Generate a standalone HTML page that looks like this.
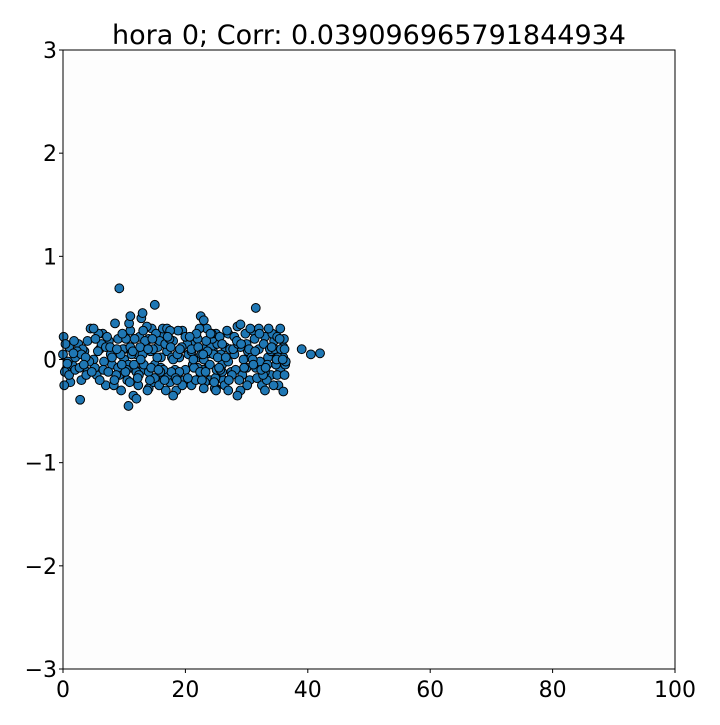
<!DOCTYPE html>
<html><head><meta charset="utf-8"><style>
html,body{margin:0;padding:0;background:#fff}
svg text{font-family:"DejaVu Sans","Liberation Sans",sans-serif;fill:#000}
</style></head><body>
<svg id="chart" width="720" height="720" viewBox="0 0 720 720">
<rect x="0" y="0" width="720" height="720" fill="#fff"/>
<rect x="63" y="50" width="612" height="619" fill="#fdfdfd"/>
<text x="369" y="44" font-size="27" text-anchor="middle">hora 0; Corr: 0.039096965791844934</text>
<g id="points"></g>
<g id="axes"></g>
<rect x="63" y="50" width="612" height="619" fill="none" stroke="#000" stroke-width="1"/>
</svg>
<script>
const xs = [
0,0.5,1,1.5,2,2.5,3,3.5,4,4.5,5,5.5,6,6.5,7,7.5,8,8.5,9,9.5,
10,10.5,11,11.5,12,12.5,13,13.5,14,14.5,15,15.5,16,16.5,17,17.5,18,18.5,19,19.5,
20,20.5,21,21.5,22,22.5,23,23.5,24,24.5,25,25.5,26,26.5,27,27.5,28,28.5,29,29.5,
30,30.5,31,31.5,32,32.5,33,33.5,34,34.5,35,35.5,36,36.3,1.2,3.2,5.2,7.2,9.2,11.2,
13.2,15.2,17.2,19.2,21.2,22.2,23.2,24.2,25.2,26.2,28.2,30.2,32.2,34.2,35.2,0.3,2.3,4.3,6.3,8.3,
10.3,12.3,14.3,16.3,18.3,20.3,22.3,23.8,24.8,25.8,27.3,29.3,31.3,33.3,35.8,1.8,3.8,5.8,7.8,9.8,
11.8,13.8,15.8,17.8,19.8,21.8,22.8,24.4,25.4,26.8,28.8,30.8,32.8,34.8,36.1,10.8,12.8,14.8,16.8,18.8,
9.2,15,31.5,2.8,10.7,39,40.5,42,36,22.5,23,25,12,18,28.5,33,13,11,35.5,29,
8,9,10,11,12,13,14,15,16,17,18,19,20,21,22,23,24,25,26,27,
28,29,30,31,32,33,34,35,36,8.7,9.7,10.7,11.7,12.7,13.7,14.7,15.7,16.7,17.7,18.7,
0.1,0.2,0.4,0.8,1,2,3,4,5,6,7,21.7,22.7,23.4,24.6,25.3,26.4,27.8,33.8,35.4,
19.5,21,22.1,23,24,24.9,25.6,26,27,29.8,30.6,31.7,32.7,33.6,34.4,35,36.2,14,16,17.5,
0.7,1.7,2.7,3.7,4.7,5.7,6.7,7.7,8.4,9.4,10.4,11.4,12.4,13.4,14.4,15.4,16.4,17.4,18.4,19.4,
20.4,21.4,22.4,23.6,24.3,25.1,26.6,27.6,28.6,29.6,30.4,31.4,32.4,33.4,34.6,35.6,36.4,12.2,14.6,16.6,
6.6,8.8,10.2,11.6,13.1,14.2,15.9,17.1,18.6,20.7,22.6,23.3,24.7,25.7,28.4,30.1,32.1,34.1,35.1,36.2,
3.4,5.3,7.4,9.6,10.9,12.6,13.9,15.6,17.6,19.1,21.3,22.9,24.1,25.5,27.1,29.1,31.1,33.1,34.9,35.9];
const ys = [
0.05,-0.1,0.12,-0.05,0.02,0.15,-0.2,0.08,-0.12,0.3,0.0,-0.15,0.1,0.25,-0.25,0.18,-0.05,0.35,0.2,-0.3,
0.1,-0.2,0.28,-0.35,0.05,0.22,-0.1,0.15,-0.28,0.3,-0.05,0.12,0.25,-0.18,0.08,-0.22,0.18,-0.3,0.02,0.28,
-0.1,0.05,-0.25,0.15,0.2,-0.15,0.1,0.3,-0.2,0.08,-0.28,0.18,-0.05,0.12,0.25,-0.12,0.05,0.32,-0.3,0.0,
0.15,-0.2,0.28,-0.08,0.1,-0.25,0.22,0.02,-0.15,0.18,0.05,-0.1,0.12,-0.05,-0.22,0.1,-0.08,0.22,-0.15,0.05,
-0.05,0.25,-0.15,0.1,-0.05,0.02,-0.22,0.12,0.15,-0.2,-0.1,0.08,-0.02,0.25,-0.25,-0.12,0.08,-0.02,0.15,-0.25,
0.2,-0.25,0.08,0.3,-0.1,0.15,0.3,-0.05,-0.28,0.05,0.1,-0.15,0.2,-0.2,0.08,0.18,-0.15,0.25,0.05,0.1,
-0.1,-0.3,0.18,0.02,-0.2,0.25,-0.1,0.2,-0.12,0.28,-0.2,0.02,0.15,-0.05,0.2,0.35,0.4,-0.22,-0.3,0.28,
0.69,0.53,0.5,-0.39,-0.45,0.1,0.05,0.06,-0.31,0.42,0.38,-0.3,-0.38,-0.35,-0.35,-0.3,0.45,0.42,0.3,0.34,
0.02,-0.08,0.0,0.12,-0.12,0.05,0.2,-0.18,0.02,0.3,0.0,-0.12,0.22,0.08,-0.08,0.0,0.06,0.25,-0.12,-0.02,
0.22,0.12,-0.08,0.0,0.3,-0.12,0.08,0.22,0.02,-0.15,0.25,-0.05,0.2,0.0,0.32,0.1,-0.25,0.15,-0.12,0.05,
0.22,-0.25,0.15,-0.02,-0.15,-0.1,0.05,0.18,0.3,-0.2,0.12,-0.2,-0.2,0.18,0.05,0.02,-0.25,0.1,0.1,0.2,
-0.25,0.1,0.12,-0.28,-0.05,-0.18,0.22,0.15,-0.3,0.25,0.3,-0.18,-0.15,0.3,-0.25,-0.15,-0.15,-0.12,-0.08,0.28,
-0.04,0.06,-0.08,0.02,-0.12,0.08,-0.02,0.12,-0.2,0.05,-0.1,0.08,-0.15,0.18,-0.08,0.02,-0.1,0.2,-0.18,0.12,
-0.18,-0.08,-0.12,0.08,0.25,-0.1,0.02,-0.15,0.15,-0.08,0.1,0.08,-0.1,-0.05,0.1,0.1,-0.02,-0.18,0.2,-0.2,
-0.1,0.1,-0.12,-0.05,0.28,-0.2,-0.12,0.22,-0.2,0.22,0.05,-0.12,-0.22,-0.1,0.18,-0.25,0.25,0.12,0.02,0.1,
-0.05,0.2,-0.12,-0.05,-0.22,0.12,0.1,-0.1,0.12,0.1,0.0,0.05,0.25,-0.08,-0.2,0.15,-0.05,-0.08,0.0,0.0];
const xTicks = [0,20,40,60,80,100];
const yTicks = [-3,-2,-1,0,1,2,3];

const NS = "http://www.w3.org/2000/svg";
const X0=63, X1=675, Y0=669, Y1=50;
function sx(v){return X0+(v-0)/(100-0)*(X1-X0);}
function sy(v){return Y0-(v-(-3))/(3-(-3))*(Y0-Y1);}
const pg = document.getElementById('points');
for(let i=0;i<xs.length;i++){
  const c=document.createElementNS(NS,'circle');
  c.setAttribute('cx',sx(xs[i]));c.setAttribute('cy',sy(ys[i]));c.setAttribute('r',4.4);
  c.setAttribute('fill','#1f77b4');c.setAttribute('stroke','#000');c.setAttribute('stroke-width','1');
  
  
  pg.appendChild(c);
}
const ag = document.getElementById('axes');
xTicks.forEach(t=>{
  const l=document.createElementNS(NS,'line');
  l.setAttribute('x1',sx(t));l.setAttribute('x2',sx(t));l.setAttribute('y1',Y0);l.setAttribute('y2',Y0+4);
  l.setAttribute('stroke','#000');
  
  
  ag.appendChild(l);
  const tx=document.createElementNS(NS,'text');
  tx.setAttribute('x',sx(t));tx.setAttribute('y',Y0+28);tx.setAttribute('font-size','22');tx.setAttribute('text-anchor','middle');
  tx.textContent=String(t);
  
  
  ag.appendChild(tx);
});
yTicks.forEach(t=>{
  const l=document.createElementNS(NS,'line');
  l.setAttribute('x1',X0-4);l.setAttribute('x2',X0);l.setAttribute('y1',sy(t));l.setAttribute('y2',sy(t));
  l.setAttribute('stroke','#000');
  
  
  ag.appendChild(l);
  const tx=document.createElementNS(NS,'text');
  tx.setAttribute('x',X0-6);tx.setAttribute('y',sy(t)+8);tx.setAttribute('font-size','22');tx.setAttribute('text-anchor','end');
  tx.textContent=(t<0?'\u2212':'')+Math.abs(t);
  
  
  ag.appendChild(tx);
});
</script>
</body></html>
